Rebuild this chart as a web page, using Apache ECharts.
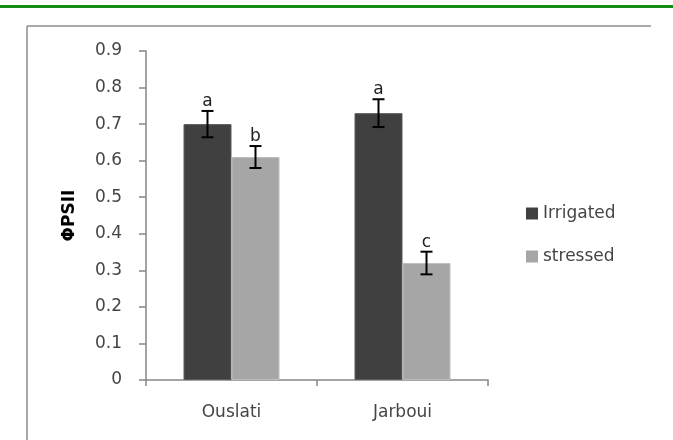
<!DOCTYPE html>
<html>
<head>
<meta charset="utf-8">
<script src="https://cdn.jsdelivr.net/npm/echarts@6/dist/echarts.min.js"></script>
<style>
  html, body { margin: 0; padding: 0; background: #fff; }
  #chart { width: 673px; height: 440px; }
</style>
</head>
<body>
<div id="chart"></div>
<script>
// Photosynthetic efficiency of PSII per cultivar and water regime
const cultivars = ['Ouslati', 'Jarboui'];
const seriesNames = ['Irrigated', 'stressed'];
const irrigated = [0.70, 0.73];
const stressed = [0.61, 0.32];
const irrigatedErr = [0.036, 0.038];
const stressedErr = [0.030, 0.031];
const irrigatedLetters = ['a', 'a'];
const stressedLetters = ['b', 'c'];
const yTicks = [0, 0.1, 0.2, 0.3, 0.4, 0.5, 0.6, 0.7, 0.8, 0.9];

const FONT = 'DejaVu Sans';
const BAR_W = 48;
const TEXT_COL = '#454545';

const chart = echarts.init(document.getElementById('chart'), null, { renderer: 'canvas' });

function errorSeries(name, values, errs, letters, offset) {
  return {
    name: name + ' err',
    type: 'custom',
    silent: true,
    z: 5,
    data: values.map((v, i) => [i, v, errs[i]]),
    renderItem: function (params, api) {
      const i = api.value(0);
      const v = api.value(1);
      const e = api.value(2);
      const letter = letters[params.dataIndex];
      const c = api.coord([i, v]);
      const x = c[0] + offset;
      const yHi = api.coord([i, v + e])[1];
      const yLo = api.coord([i, v - e])[1];
      const cap = 6;
      const style = { stroke: '#000', lineWidth: 2 };
      return {
        type: 'group',
        children: [
          { type: 'line', shape: { x1: x, y1: yHi, x2: x, y2: yLo }, style: style },
          { type: 'line', shape: { x1: x - cap, y1: yHi, x2: x + cap, y2: yHi }, style: style },
          { type: 'line', shape: { x1: x - cap, y1: yLo, x2: x + cap, y2: yLo }, style: style },
          {
            type: 'text',
            style: {
              text: letter, x: x, y: yHi - 1,
              align: 'center', verticalAlign: 'bottom',
              font: '17px "' + FONT + '"', fill: '#202020'
            }
          }
        ]
      };
    }
  };
}

chart.setOption({
  animation: false,
  backgroundColor: '#ffffff',
  grid: { left: 146, right: 185, top: 51, bottom: 60, containLabel: false },
  legend: {
    orient: 'vertical',
    left: 521,
    top: 200,
    itemWidth: 12,
    itemHeight: 12,
    itemGap: 26,
    icon: 'rect',
    data: seriesNames,
    itemStyle: { borderWidth: 0 },
    textStyle: { fontFamily: FONT, fontSize: 17, color: TEXT_COL }
  },
  xAxis: {
    type: 'category',
    data: cultivars,
    axisLine: { lineStyle: { color: '#868686', width: 1.5 } },
    axisTick: { show: true, length: 6, alignWithLabel: false, lineStyle: { color: '#868686', width: 1.5 } },
    axisLabel: { fontFamily: FONT, fontSize: 17, color: TEXT_COL, margin: 24 }
  },
  yAxis: {
    type: 'value',
    min: 0,
    max: 0.9,
    interval: 0.1,
    name: 'ΦPSII',
    nameLocation: 'middle',
    nameRotate: 90,
    nameGap: 68,
    nameTextStyle: { fontFamily: FONT, fontSize: 17, fontWeight: 'bold', color: '#000' },
    axisLine: { show: true, lineStyle: { color: '#868686', width: 1.5 } },
    axisTick: { show: true, inside: false, length: 7, lineStyle: { color: '#868686', width: 1.5 } },
    splitLine: { show: false },
    axisLabel: {
      fontFamily: FONT, fontSize: 17, color: TEXT_COL, margin: 24,
      formatter: function (v) {
        const t = yTicks.find(k => Math.abs(k - v) < 1e-9);
        return t === 0 ? '0' : (t !== undefined ? t.toFixed(1) : '');
      }
    }
  },
  series: [
    {
      name: seriesNames[0], type: 'bar', data: irrigated, barWidth: BAR_W, barGap: '0%',
      itemStyle: { color: '#404040', borderColor: '#5a5a5a', borderWidth: 1 }
    },
    {
      name: seriesNames[1], type: 'bar', data: stressed, barWidth: BAR_W, barGap: '0%',
      itemStyle: { color: '#a6a6a6', borderColor: '#bdbdbd', borderWidth: 1 }
    },
    errorSeries(seriesNames[0], irrigated, irrigatedErr, irrigatedLetters, -BAR_W / 2),
    errorSeries(seriesNames[1], stressed, stressedErr, stressedLetters, BAR_W / 2)
  ],
  graphic: [
    // green rule across the page top
    { type: 'rect', shape: { x: 0, y: 5, width: 673, height: 3 }, style: { fill: '#138a13' }, silent: true },
    // chart frame (top and left edges)
    { type: 'line', shape: { x1: 27, y1: 26, x2: 651, y2: 26 }, style: { stroke: '#8c8c8c', lineWidth: 1.5 }, silent: true },
    { type: 'line', shape: { x1: 27, y1: 26, x2: 27, y2: 440 }, style: { stroke: '#8c8c8c', lineWidth: 1.5 }, silent: true }
  ]
});
</script>
</body>
</html>
